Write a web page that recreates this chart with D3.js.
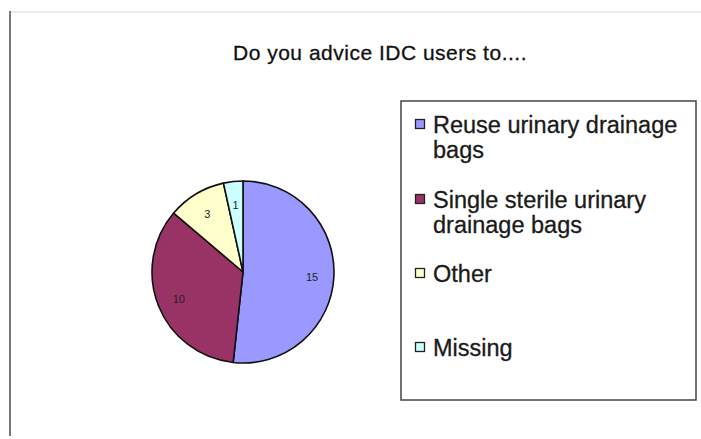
<!DOCTYPE html>
<html lang="en">
<head>
<meta charset="UTF-8">
<title>Do you advice IDC users to....</title>
<script src="https://cdnjs.cloudflare.com/ajax/libs/d3/7.8.5/d3.min.js"></script>
<style>
    body { margin: 0; background: #fff; }
    svg { display: block; font-family: Arial, "Liberation Sans", sans-serif; }
</style>
</head>
<body>
<div id="chart"></div>
<script>
    const categories = ["Reuse urinary drainage bags", "Single sterile urinary drainage bags", "Other", "Missing"];
    const counts = [15, 10, 3, 1];
    const colors = ["#9999ff", "#993366", "#ffffcc", "#ccffff"];
    // legend text broken in lines the way the original wraps it
    const legendLines = [["Reuse urinary drainage", "bags"], ["Single sterile urinary", "drainage bags"], ["Other"], ["Missing"]];
    const legendRows = [133, 208, 282, 356];

    const width = 701, height = 439;
    const svg = d3.select("#chart").append("svg")
        .attr("width", width)
        .attr("height", height);

    // frame of the chart area
    svg.append("line")
        .attr("x1", 11).attr("x2", width).attr("y1", 12).attr("y2", 12)
        .attr("stroke", "#e4e4e4").attr("stroke-width", 1.5);
    svg.append("line")
        .attr("x1", 10).attr("x2", 10).attr("y1", 11).attr("y2", 436)
        .attr("stroke", "#777").attr("stroke-width", 2);

    svg.append("text")
        .attr("x", 380).attr("y", 60)
        .attr("text-anchor", "middle")
        .attr("font-size", 21)
        .attr("letter-spacing", 0.5)
        .attr("fill", "#111")
        .attr("stroke", "#111").attr("stroke-width", 0.3)
        .text("Do you advice IDC users to....");

    // pie
    const r = 91;
    const g = svg.append("g").attr("transform", "translate(243,272)");
    const pie = d3.pie().sort(null).value(d => d);
    const arc = d3.arc().innerRadius(0).outerRadius(r);
    const labelArc = d3.arc().innerRadius(r * 0.76).outerRadius(r * 0.76);
    const arcs = pie(counts);

    g.selectAll("path")
        .data(arcs)
        .enter().append("path")
        .attr("d", arc)
        .attr("fill", (d, i) => colors[i])
        .attr("stroke", "#111")
        .attr("stroke-width", 1.6)
        .attr("stroke-linejoin", "round");

    g.selectAll(".lbl")
        .data(arcs)
        .enter().append("text")
        .attr("class", "lbl")
        .attr("transform", d => `translate(${labelArc.centroid(d)})`)
        .attr("text-anchor", "middle")
        .attr("dy", "0.5em")
        .attr("font-size", 11)
        .attr("fill", "#222")
        .text(d => d.data);

    // legend
    const legend = svg.append("g");
    legend.append("rect")
        .attr("x", 401).attr("y", 101).attr("width", 295).attr("height", 299)
        .attr("fill", "#fff").attr("stroke", "#444").attr("stroke-width", 1.5);

    const item = legend.selectAll(".item")
        .data(categories)
        .enter().append("g")
        .attr("class", "item")
        .attr("transform", (d, i) => `translate(0,${legendRows[i]})`);

    item.append("rect")
        .attr("x", 415.5).attr("y", -13.5).attr("width", 9).attr("height", 9)
        .attr("fill", (d, i) => colors[i])
        .attr("stroke", "#222").attr("stroke-width", 1.3);

    item.append("text")
        .attr("x", 433)
        .attr("font-size", 23.5)
        .attr("fill", "#1a1a1a")
        .attr("stroke", "#1a1a1a").attr("stroke-width", 0.3)
        .selectAll("tspan")
        .data((d, i) => legendLines[i])
        .enter().append("tspan")
        .attr("x", 433)
        .attr("dy", (d, j) => j === 0 ? 0 : 25)
        .text(d => d);
</script>
</body>
</html>
